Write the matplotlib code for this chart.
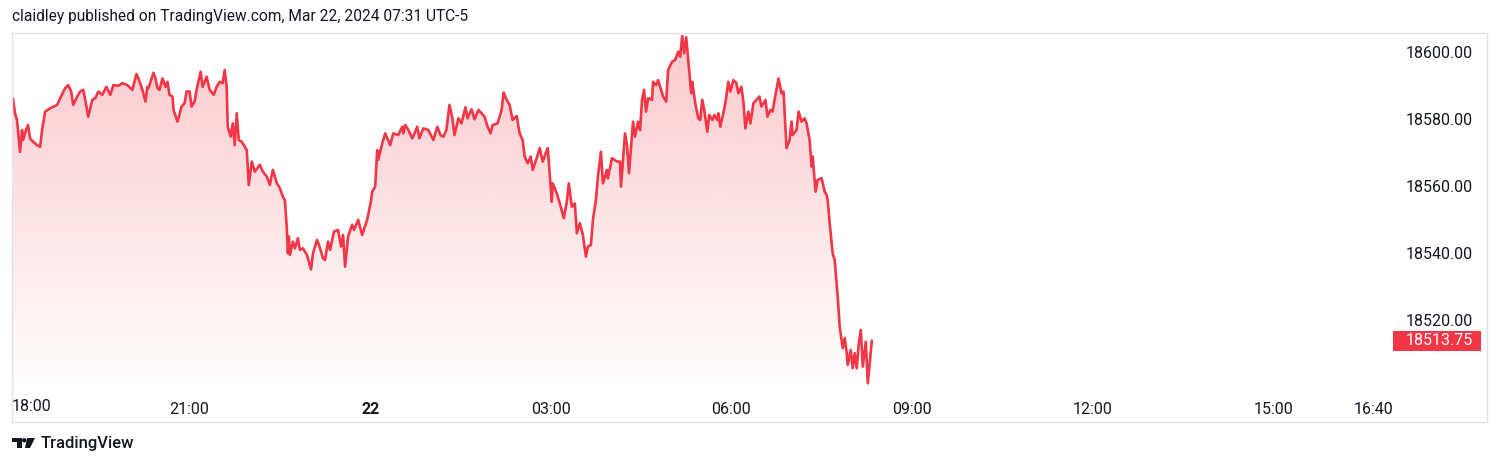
import numpy as np
import matplotlib
matplotlib.use("Agg")
import matplotlib.pyplot as plt
from matplotlib.patches import Rectangle, Polygon, Ellipse
import matplotlib.transforms as mtransforms

# ---- data: minutes after 18:00 (Mar 21) and price ----
minutes = [4, 6, 8, 11, 13, 14, 17, 19, 21, 24, 28, 31, 33, 36, 41, 48, 51, 56, 59, 62,
           64, 68, 71, 74, 76, 79, 83, 86, 89, 93, 97, 101, 104, 109, 113, 118, 123, 127, 129, 133,
           136, 138, 139, 144, 146, 148, 150, 153, 156, 158, 160, 163, 164, 168, 172, 175, 177, 180, 182, 185,
           187, 191, 193, 197, 200, 204, 207, 210, 213, 215, 217, 218, 221, 223, 225, 227, 229, 232, 237, 239,
           242, 245, 250, 253, 257, 260, 263, 267, 270, 273, 275, 277, 278, 279, 280, 283, 285, 288, 290, 293,
           297, 301, 303, 307, 309, 313, 315, 318, 320, 324, 328, 331, 333, 335, 338, 342, 344, 348, 352, 357,
           359, 361, 362, 365, 367, 368, 372, 375, 380, 383, 388, 392, 393, 395, 398, 402, 407, 409, 413, 418,
           423, 427, 430, 433, 436, 439, 442, 444, 448, 451, 455, 457, 461, 464, 468, 474, 477, 480, 482, 487,
           491, 493, 496, 499, 502, 506, 509, 512, 514, 517, 520, 522, 526, 529, 532, 535, 537, 541, 542, 546,
           549, 553, 556, 558, 561, 564, 566, 569, 572, 575, 577, 580, 582, 585, 587, 590, 592, 596, 597, 601,
           606, 609, 610, 614, 616, 618, 622, 624, 627, 629, 631, 633, 635, 637, 641, 642, 645, 647, 650, 652,
           655, 657, 661, 664, 667, 669, 671, 673, 675, 677, 680, 681, 684, 687, 689, 691, 693, 696, 698, 701,
           703, 706, 707, 709, 712, 714, 717, 719, 722, 725, 727, 730, 732, 734, 737, 739, 742, 745, 748, 750,
           754, 756, 759, 761, 764, 767, 770, 772, 775, 778, 780, 781, 785, 787, 790, 793, 795, 798, 800, 801,
           804, 806, 810, 813, 815, 816, 818, 821, 823, 826, 828, 831, 833, 835, 836, 839, 841, 843, 845, 847,
           849, 851, 854, 856, 860]
prices = [18586.0, 18581.7, 18579.7, 18570.2, 18576.7, 18573.7, 18576.7, 18578.2, 18574.2, 18573.2,
          18572.2, 18571.7, 18576.7, 18582.2, 18583.2, 18584.2, 18586.2, 18589.2, 18590.1, 18588.2,
          18584.2, 18586.7, 18588.2, 18588.7, 18585.7, 18580.7, 18585.7, 18586.2, 18588.2, 18587.2,
          18589.6, 18587.2, 18590.1, 18589.9, 18590.7, 18590.1, 18588.7, 18593.4, 18592.1, 18588.7,
          18585.2, 18589.6, 18589.2, 18593.8, 18592.1, 18589.2, 18588.7, 18592.1, 18589.6, 18591.1,
          18587.2, 18586.7, 18582.7, 18579.2, 18583.7, 18584.7, 18588.2, 18588.2, 18583.7, 18585.2,
          18588.7, 18594.1, 18589.6, 18592.6, 18588.7, 18587.2, 18589.6, 18591.1, 18590.7, 18594.6,
          18589.6, 18577.7, 18574.7, 18578.7, 18572.2, 18581.7, 18573.7, 18573.2, 18570.7, 18560.3,
          18567.3, 18564.3, 18566.3, 18564.3, 18562.8, 18560.3, 18564.8, 18560.8, 18559.3, 18556.8,
          18555.8, 18546.9, 18539.9, 18544.9, 18539.4, 18543.4, 18541.4, 18544.4, 18540.9, 18541.4,
          18539.4, 18535.1, 18539.9, 18543.9, 18542.4, 18538.4, 18537.9, 18543.4, 18540.9, 18546.4,
          18546.9, 18541.9, 18545.4, 18535.9, 18544.9, 18548.4, 18546.9, 18549.9, 18545.4, 18549.9,
          18552.8, 18555.8, 18558.3, 18559.8, 18570.7, 18567.8, 18572.7, 18575.7, 18572.2, 18575.7,
          18575.2, 18577.7, 18575.7, 18578.2, 18576.7, 18574.2, 18577.7, 18574.2, 18577.2, 18576.7,
          18573.7, 18577.7, 18575.2, 18574.7, 18576.7, 18584.2, 18580.2, 18575.2, 18580.2, 18578.7,
          18583.5, 18580.2, 18582.9, 18579.9, 18582.7, 18580.7, 18577.7, 18575.7, 18578.2, 18578.7,
          18582.7, 18587.9, 18585.7, 18584.2, 18579.7, 18580.9, 18575.7, 18573.7, 18568.8, 18566.8,
          18568.8, 18564.8, 18568.3, 18571.3, 18567.3, 18569.8, 18571.3, 18555.3, 18560.8, 18557.8,
          18554.8, 18550.4, 18555.3, 18560.8, 18553.8, 18554.8, 18545.9, 18548.9, 18545.4, 18538.9,
          18541.9, 18542.4, 18549.9, 18555.8, 18562.8, 18570.2, 18560.8, 18564.8, 18562.3, 18568.3,
          18567.3, 18567.3, 18559.8, 18575.7, 18572.2, 18563.8, 18579.2, 18574.7, 18579.2, 18576.7,
          18585.7, 18588.7, 18582.2, 18586.2, 18585.7, 18591.1, 18590.1, 18591.6, 18588.7, 18586.7,
          18585.2, 18594.6, 18597.1, 18597.6, 18600.1, 18598.6, 18604.8, 18599.6, 18604.4, 18597.6,
          18587.7, 18591.1, 18584.7, 18580.2, 18579.7, 18585.7, 18582.7, 18576.2, 18581.2, 18579.7,
          18581.2, 18579.7, 18581.7, 18577.7, 18581.7, 18584.7, 18591.1, 18588.2, 18591.6, 18590.7,
          18587.7, 18589.6, 18585.2, 18577.2, 18582.2, 18578.7, 18584.7, 18585.7, 18586.7, 18583.7,
          18585.7, 18580.7, 18582.7, 18582.2, 18587.2, 18592.1, 18587.7, 18588.2, 18571.3, 18573.7,
          18579.2, 18575.2, 18576.7, 18582.2, 18579.2, 18580.2, 18578.7, 18573.7, 18565.8, 18568.8,
          18558.3, 18561.8, 18562.3, 18558.3, 18557.3, 18555.8, 18548.9, 18539.9, 18537.9, 18527.0,
          18518.0, 18511.6, 18514.6, 18510.1, 18506.6, 18511.0, 18505.6, 18510.1, 18505.6, 18513.0,
          18517.0, 18506.1, 18513.5, 18501.1, 18513.75]

tick_minutes = [180, 360, 540, 720, 900, 1080, 1260, 1360]
tick_labels = ["21:00", "22", "03:00", "06:00", "09:00", "12:00", "15:00", "16:40"]
first_label = "18:00"
price_ticks = [18520, 18540, 18560, 18580, 18600]
last_price = 18513.75
title = "claidley published on TradingView.com, Mar 22, 2024 07:31 UTC-5"

RED = "#F23645"
TXT = "#131722"
FONT = "Roboto"

W, H = 1500, 465
fig = plt.figure(figsize=(W / 100, H / 100), dpi=100)
fig.patch.set_facecolor("white")

def fx(px):
    return px / W

def fy(py):
    return 1 - py / H

ax_l, ax_r, ax_t, ax_b = 12, 1390, 35, 392
ax = fig.add_axes([fx(ax_l), fy(ax_b), fx(ax_r - ax_l), (ax_b - ax_t) / H])
ax.set_facecolor("white")

t = np.array(minutes, dtype=float)
p = np.array(prices)

ylo, yhi = 18498.5, 18605.07
xlo, xhi = 3, 1376.5

# gradient fill
rgb = matplotlib.colors.to_rgb(RED)
n = 256
grad = np.zeros((n, 1, 4))
grad[..., 0], grad[..., 1], grad[..., 2] = rgb
grad[:, 0, 3] = np.linspace(0.0, 0.27, n)
im = ax.imshow(grad, extent=[t[0], t[-1], ylo, p.max()], origin="lower",
               aspect="auto", zorder=1, interpolation="bilinear")
poly = ax.fill_between(t, p, ylo, facecolor="none", edgecolor="none")
im.set_clip_path(poly.get_paths()[0], transform=ax.transData)

ax.plot(t, p, color=RED, lw=1.9, zorder=3, solid_joinstyle="round")

ax.set_xlim(xlo, xhi)
ax.set_ylim(ylo, yhi)

for s in ax.spines.values():
    s.set_visible(False)

ax.set_xticks(tick_minutes)
ax.set_xticklabels(tick_labels, fontfamily=FONT, fontsize=11.5, color=TXT)
for lbl in ax.get_xticklabels():
    if lbl.get_text() == "22":
        lbl.set_fontweight("bold")
ax.tick_params(axis="x", length=0, pad=7.5)

ax.yaxis.tick_right()
ax.set_yticks(price_ticks)
ax.set_yticklabels([f"{v:.2f}" for v in price_ticks], fontfamily=FONT, fontsize=11.5, color=TXT)
ax.tick_params(axis="y", length=0, pad=11.5)

# first time label (clamped to left edge)
fig.text(fx(12), fy(406), first_label, fontfamily=FONT, fontsize=11.5, color=TXT,
         ha="left", va="center")

# last price box
btr = mtransforms.blended_transform_factory(ax.transAxes, ax.transData)
bx0 = (1393 - ax_l) / (ax_r - ax_l)
bx1 = (1481 - ax_l) / (ax_r - ax_l)
hh = 10 / 3.35
ax.add_patch(Rectangle((bx0, last_price - hh), bx1 - bx0, 2 * hh, transform=btr,
                       facecolor=RED, edgecolor="none", clip_on=False, zorder=5))
ax.text((1406 - ax_l) / (ax_r - ax_l), last_price, f"{last_price:.2f}", transform=btr,
        fontfamily=FONT, fontsize=11.5, color="white", ha="left", va="center",
        clip_on=False, zorder=6)

# outer frame
fig.patches.append(Rectangle((fx(12), fy(422)), fx(1487 - 12), (422 - 33) / H,
                             transform=fig.transFigure, facecolor="none",
                             edgecolor="#E0E3EB", lw=1.0))

# title
fig.text(fx(12), fy(17), title, fontfamily=FONT, fontsize=11.2, color=TXT,
         ha="left", va="center")

# footer logo
def P(x, y):
    return (fx(x), fy(y))

logo = [
    Polygon([P(12, 438), P(22, 438), P(22, 448), P(17, 448), P(17, 442.3), P(12, 442.3)],
            closed=True, transform=fig.transFigure, facecolor=TXT, edgecolor="none"),
    Polygon([P(27, 438), P(35, 438), P(30, 448), P(25, 448)],
            closed=True, transform=fig.transFigure, facecolor=TXT, edgecolor="none"),
]
for lp in logo:
    fig.patches.append(lp)
fig.patches.append(Ellipse(P(24.2, 440.3), 4.4 / W, 4.4 / H, transform=fig.transFigure,
                           facecolor=TXT, edgecolor="none"))
fig.text(fx(41), fy(443.5), "TradingView", fontfamily=FONT, fontsize=12, color=TXT,
         ha="left", va="center", fontweight="medium")

fig.savefig("out.png", dpi=100)
